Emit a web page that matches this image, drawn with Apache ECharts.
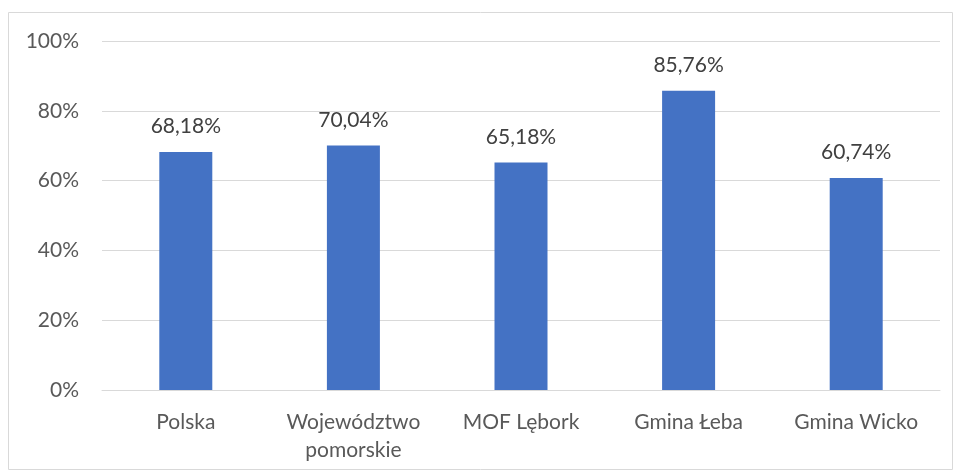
<!DOCTYPE html>
<html>
<head>
<meta charset="utf-8">
<script src="https://cdn.jsdelivr.net/npm/echarts@6/dist/echarts.min.js"></script>
<style>
  html, body { margin: 0; padding: 0; background: #fff; }
  #chart { width: 956px; height: 473px; }
</style>
</head>
<body>
<div id="chart"></div>
<script>
  // categories and values (percent)
  var categories = ['Polska', 'Województwo\npomorskie', 'MOF Lębork', 'Gmina Łeba', 'Gmina Wicko']
  var values = [68.18, 70.04, 65.18, 85.76, 60.74]

  var font = 'Lato, "Open Sans", sans-serif'
  var chart = echarts.init(document.getElementById('chart'))

  chart.setOption({
    animation: false,
    graphic: [{
      type: 'rect',
      shape: { x: 8.5, y: 12.5, width: 944, height: 457 },
      style: { fill: 'none', stroke: '#d9d9d9', lineWidth: 1 },
      silent: true
    }],
    grid: {
      left: 102,
      right: 16,
      top: 41,
      bottom: 83,
      containLabel: false
    },
    xAxis: {
      type: 'category',
      data: categories,
      axisTick: { show: false },
      axisLine: { lineStyle: { color: '#d9d9d9', width: 1 } },
      axisLabel: {
        interval: 0,
        hideOverlap: false,
        color: '#595959',
        fontFamily: font,
        fontSize: 21,
        lineHeight: 28,
        margin: 18
      }
    },
    yAxis: {
      type: 'value',
      min: 0,
      max: 100,
      interval: 20,
      axisLine: { show: false },
      axisTick: { show: false },
      splitLine: { lineStyle: { color: '#d9d9d9', width: 1 } },
      axisLabel: {
        color: '#595959',
        fontFamily: font,
        fontSize: 21,
        margin: 23,
        formatter: '{value}%'
      }
    },
    series: [{
      type: 'bar',
      data: values,
      barWidth: 53,
      itemStyle: { color: '#4472c4' },
      label: {
        show: true,
        position: 'top',
        distance: 15,
        color: '#404040',
        fontFamily: font,
        fontSize: 21,
        formatter: function (p) {
          return p.value.toFixed(2).replace('.', ',') + '%'
        }
      }
    }]
  })
</script>
</body>
</html>
